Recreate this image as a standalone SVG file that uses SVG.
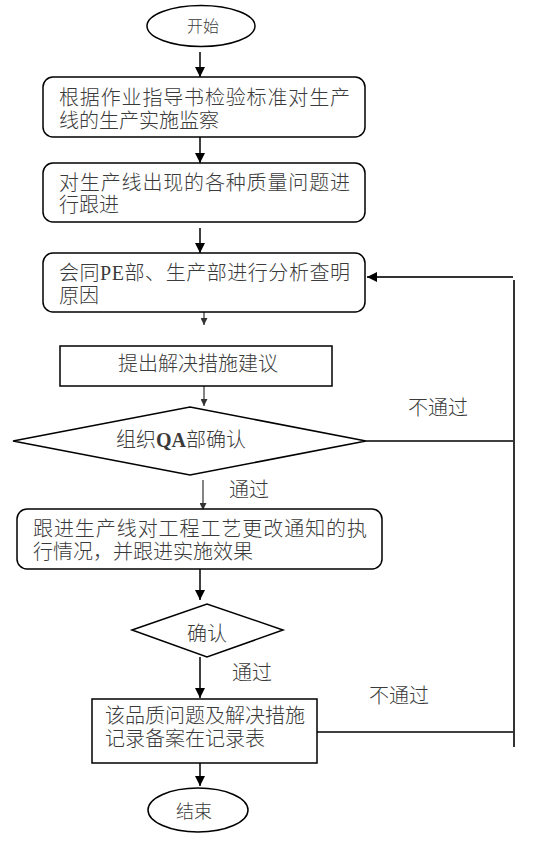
<svg xmlns="http://www.w3.org/2000/svg" width="535" height="841" viewBox="0 0 535 841">
<defs>
<style>
.shape{fill:#fff;stroke:#000;stroke-width:1.5}
.t{font-family:"Liberation Serif","Noto Sans CJK SC",serif;font-size:20px;font-weight:300;fill:#3a3a3a}
.ln{stroke:#000;stroke-width:1.5;fill:none}
.thin{stroke:#333;stroke-width:1.2;fill:none}
.side{stroke:#333;stroke-width:2;fill:none}
</style>
<marker id="ah" viewBox="0 0 10 10" refX="10" refY="5" markerWidth="10" markerHeight="11" markerUnits="userSpaceOnUse" orient="auto">
<path d="M0,0 L10,5 L0,10 z" fill="#000"/>
</marker>
<marker id="ahs" viewBox="0 0 10 10" refX="10" refY="5" markerWidth="7" markerHeight="7" markerUnits="userSpaceOnUse" orient="auto">
<path d="M0,0 L10,5 L0,10 z" fill="#333"/>
</marker>
</defs>
<rect width="535" height="841" fill="#fff"/>

<g id="connectors">
<line class="ln" x1="200" y1="52" x2="200" y2="77" marker-end="url(#ah)"/>
<line class="ln" x1="200" y1="137" x2="200" y2="163" marker-end="url(#ah)"/>
<line class="ln" x1="200" y1="228" x2="200" y2="253" marker-end="url(#ah)"/>
<line class="thin" x1="204" y1="291" x2="204" y2="325" marker-end="url(#ahs)"/>
<line class="thin" x1="204" y1="363" x2="204" y2="406" marker-end="url(#ahs)"/>
<line class="thin" x1="203" y1="480" x2="203" y2="510" marker-end="url(#ahs)"/>
<line class="ln" x1="200" y1="569" x2="200" y2="600" marker-end="url(#ah)"/>
<line class="ln" x1="200" y1="657" x2="200" y2="698" marker-end="url(#ah)"/>
<line class="ln" x1="200" y1="763" x2="200" y2="786" marker-end="url(#ah)"/>
<line class="ln" x1="366" y1="441" x2="514" y2="441"/>
<line class="ln" x1="317" y1="732" x2="514" y2="732"/>
<line class="side" x1="514" y1="280" x2="514" y2="747"/>
<line class="side" x1="513" y1="277" x2="367" y2="277" marker-end="url(#ah)"/>
<text class="t" x="408" y="415">不通过</text>
<text class="t" x="229" y="497">通过</text>
<text class="t" x="232" y="680">通过</text>
<text class="t" x="369" y="703">不通过</text>
</g>

<g id="start">
<ellipse class="shape" cx="201" cy="26" rx="54" ry="20.5"/>
<text class="t" x="203" y="32" text-anchor="middle" style="font-size:16px">开始</text>
</g>

<g id="box1">
<rect class="shape" x="43" y="77" width="322" height="60" rx="10"/>
<text class="t" x="59" y="105" textLength="291" lengthAdjust="spacing">根据作业指导书检验标准对生产</text>
<text class="t" x="59" y="128">线的生产实施监察</text>
</g>

<g id="box2">
<rect class="shape" x="43" y="163" width="322" height="59" rx="10"/>
<text class="t" x="59" y="190" textLength="291" lengthAdjust="spacing">对生产线出现的各种质量问题进</text>
<text class="t" x="59" y="212">行跟进</text>
</g>

<g id="box3">
<rect class="shape" x="43" y="253" width="322" height="59" rx="10"/>
<text class="t" x="59" y="280" textLength="291" lengthAdjust="spacing">会同PE部、生产部进行分析查明</text>
<text class="t" x="59" y="303">原因</text>
</g>

<g id="box4">
<rect class="shape" x="60" y="346" width="272" height="40"/>
<text class="t" x="118" y="371">提出解决措施建议</text>
</g>

<g id="decision1">
<polygon class="shape" points="13,441 190,407 366,441 190,475"/>
<text class="t" x="116" y="447">组织<tspan font-weight="bold">QA</tspan>部确认</text>
</g>

<g id="box5">
<rect class="shape" x="17" y="509" width="365" height="60" rx="10"/>
<text class="t" x="33" y="536" textLength="334" lengthAdjust="spacing">跟进生产线对工程工艺更改通知的执</text>
<text class="t" x="33" y="559">行情况，并跟进实施效果</text>
</g>

<g id="decision2">
<polygon class="shape" points="132,630 207,604 283,630 207,657"/>
<text class="t" x="187" y="641">确认</text>
</g>

<g id="box6">
<rect class="shape" x="92" y="699" width="225" height="64"/>
<text class="t" x="105" y="723">该品质问题及解决措施</text>
<text class="t" x="105" y="746">记录备案在记录表</text>
</g>

<g id="end">
<ellipse class="shape" cx="198" cy="810" rx="50" ry="22"/>
<text class="t" x="194" y="818" text-anchor="middle" style="font-size:18px">结束</text>
</g>
</svg>
